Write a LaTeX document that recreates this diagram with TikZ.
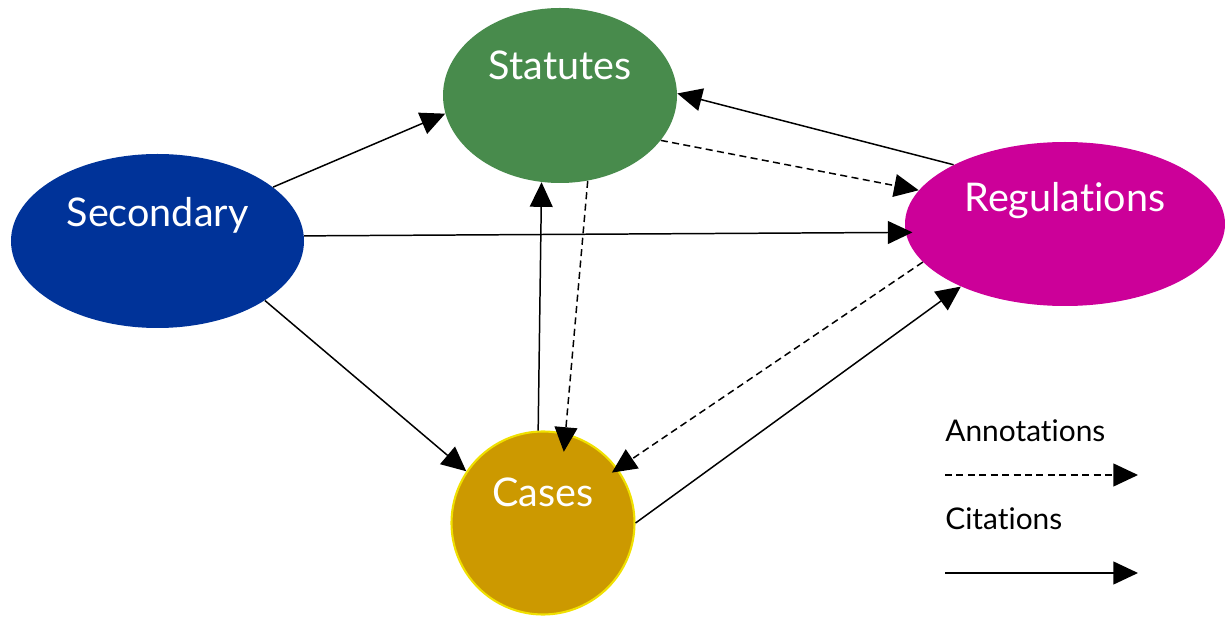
\documentclass[tikz,border=0pt]{standalone}
\usepackage{fontspec}
\setmainfont{Lato}[Ligatures=NoCommon]
\usepackage{tikz}
\usetikzlibrary{arrows.meta,shapes.geometric}
\tikzset{>/.tip={Triangle[length=14pt,width=13pt]}}

\definecolor{statgreen}{HTML}{488B4C}
\definecolor{secblue}{HTML}{003399}
\definecolor{regpink}{HTML}{CC0099}
\definecolor{casegold}{HTML}{CC9900}
\definecolor{caseline}{HTML}{F0E000}

\begin{document}
\begin{tikzpicture}[
  blob/.style={ellipse, inner sep=0pt},
  blobtext/.style={text=white, font=\fontsize{22.5}{26}\selectfont, anchor=base},
  legendtext/.style={font=\fontsize{17}{20}\selectfont, anchor=base west, inner sep=0pt},
  cite/.style={->, line width=0.85pt},
  anno/.style={->, line width=0.85pt, dash pattern=on 4pt off 2.5pt}]
\useasboundingbox (0,0) rectangle (24.5,12.32);

\node[blob, fill=statgreen, minimum width=4.68cm, minimum height=3.5cm] (stat) at (11.2,10.41) {};
\node[blob, fill=secblue, minimum width=5.86cm, minimum height=3.48cm] (sec) at (3.15,7.5) {};
\node[blob, fill=regpink, minimum width=6.4cm, minimum height=3.28cm] (reg) at (21.3,7.84) {};
\node[circle, fill=casegold, draw=caseline, line width=1.2pt, minimum size=3.66cm, inner sep=0pt] (cases) at (10.86,1.86) {};

\node[blobtext] (stat-t) at ([yshift=0.31cm]stat.center) {Statutes};
\node[blobtext] (sec-t) at ([yshift=0.28cm]sec.center) {Secondary};
\node[blobtext] (reg-t) at ([yshift=0.24cm]reg.center) {Regulations};
\node[blobtext] (cases-t) at ([yshift=0.34cm]cases.center) {Cases};

% citations
\draw[cite] (sec.25.5) -- (stat.189);
\draw[cite] (sec.2.8) -- ([xshift=0.14cm]reg.183.4);
\draw[cite] (sec.-29) -- (cases.146);
\draw[cite] (reg.152.4) -- (stat.1.2);
\draw[cite] (cases.93) -- (stat.-102.5);
\draw[cite] (cases.0) -- (reg.211.3);

% annotations
\draw[anno] (stat.-24.6) -- (reg.167.1);
\draw[anno] (stat.-72.1) -- ([yshift=-0.38cm]cases.77);
\draw[anno] (reg.195.1) -- ([shift={(-0.12cm,-0.08cm)}]cases.36);

% legend
\node[legendtext] (anno-t) at (18.9,3.48) {Annotations};
\node[legendtext] (cite-t) at (18.9,1.72) {Citations};
\coordinate (anno-a) at (18.9,2.82);
\coordinate (anno-b) at (22.76,2.82);
\coordinate (cite-a) at (18.9,0.86);
\coordinate (cite-b) at (22.76,0.86);
\draw[anno] (anno-a) -- (anno-b);
\draw[cite] (cite-a) -- (cite-b);
\end{tikzpicture}
\end{document}
